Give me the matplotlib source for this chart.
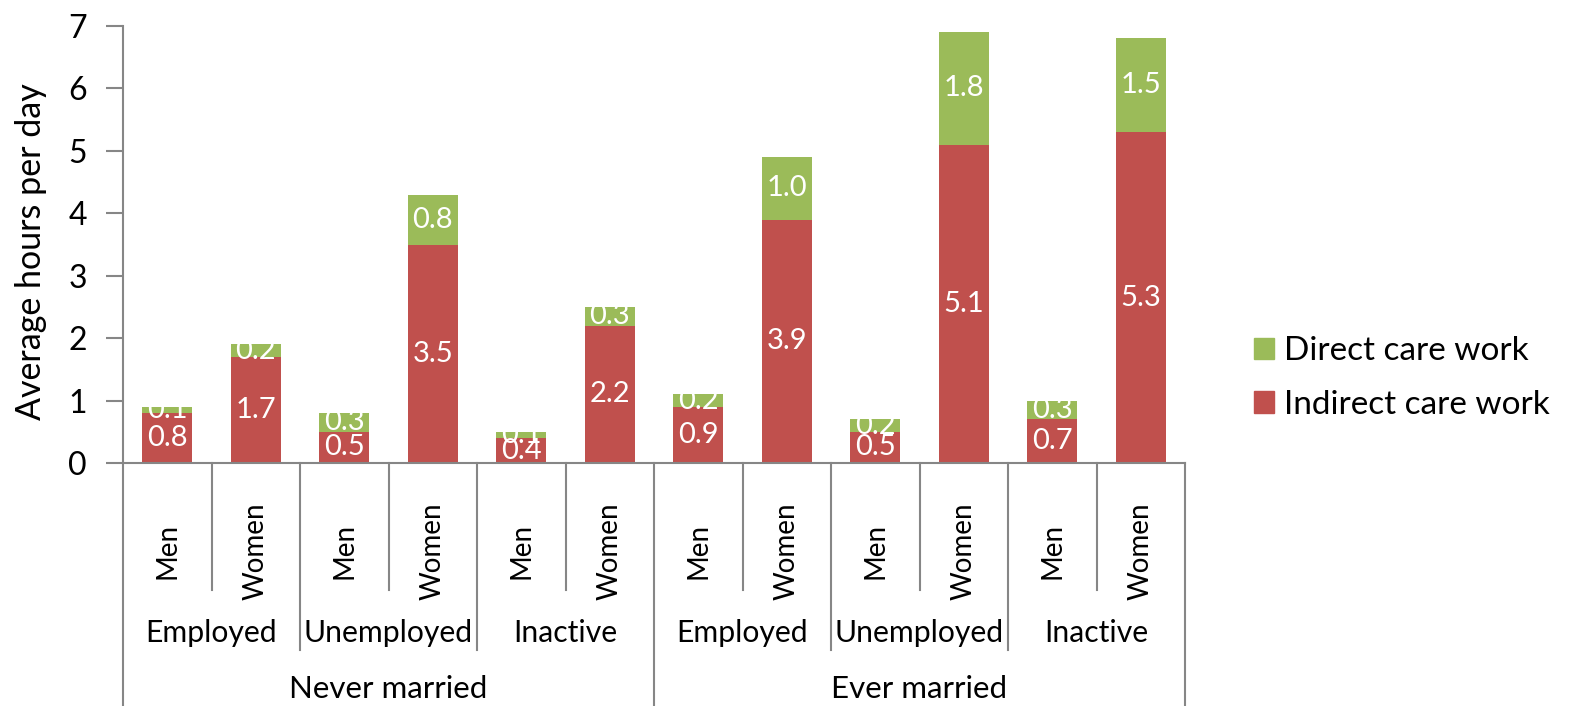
import numpy as np
import matplotlib
matplotlib.use("Agg")
from matplotlib import pyplot as plt
from matplotlib.patches import Patch
import matplotlib.transforms as mtransforms

plt.rcParams['font.family'] = ['Lato', 'DejaVu Sans']

# categories (three levels)
sexes = ['Men', 'Women'] * 6
activity = ['Employed', 'Unemployed', 'Inactive'] * 2
marital = ['Never married', 'Ever married']

# hours per day
indirect = [0.8, 1.7, 0.5, 3.5, 0.4, 2.2, 0.9, 3.9, 0.5, 5.1, 0.7, 5.3]
direct = [0.1, 0.2, 0.3, 0.8, 0.1, 0.3, 0.2, 1.0, 0.2, 1.8, 0.3, 1.5]

red = '#C0504D'
green = '#9BBB59'
axis_gray = '#868686'

fig = plt.figure(figsize=(15.85, 7.06), dpi=100)
ax = fig.add_axes([123/1585, 1 - 463/706, (1185 - 123)/1585, (463 - 26)/706])

x = np.arange(len(sexes))
w = 0.56
b1 = ax.bar(x, indirect, w, color=red, zorder=2)
b2 = ax.bar(x, direct, w, bottom=indirect, color=green, zorder=2)

# value labels in the middle of each segment
for i in range(len(x)):
    ax.text(x[i], indirect[i]/2, '{:.1f}'.format(indirect[i]), ha='center', va='center',
            color='white', fontsize=21, zorder=3)
    ax.text(x[i], indirect[i] + direct[i]/2, '{:.1f}'.format(direct[i]), ha='center',
            va='center', color='white', fontsize=21, zorder=3)

ax.set_xlim(-0.5, len(x) - 0.5)
ax.set_ylim(0, 7)
ax.set_yticks(range(0, 8))
ax.tick_params(axis='y', labelsize=23, length=12, width=1.5, color=axis_gray, pad=14)
ax.set_xticks([])
for s in ['top', 'right']:
    ax.spines[s].set_visible(False)
for s in ['left', 'bottom']:
    ax.spines[s].set_color(axis_gray)
    ax.spines[s].set_linewidth(1.5)

fig.text(31/1585, 1 - 252/706, 'Average hours per day', rotation=90,
         ha='center', va='center', fontsize=24.5)

# multi-level category axis
tr = mtransforms.blended_transform_factory(ax.transData, fig.transFigure)
y_axis = 1 - 463/706
y_sex = 1 - 590/706
y_act = 1 - 650/706
for k in range(len(x) + 1):
    xb = k - 0.5
    if k % 6 == 0:
        y_end = 0
    elif k % 2 == 0:
        y_end = y_act
    else:
        y_end = y_sex
    ax.plot([xb, xb], [y_axis, y_end], transform=tr, color=axis_gray, lw=1.5, clip_on=False)

for i, s in enumerate(sexes):
    ax.text(x[i], 1 - 551/706, s, transform=tr, rotation=90, ha='center', va='center',
            fontsize=20)
for j, a in enumerate(activity):
    ax.text(2*j + 0.5, 1 - 633/706, a, transform=tr, ha='center', va='center', fontsize=21.7)
for j, m in enumerate(marital):
    ax.text(6*j + 2.5, 1 - 689/706, m, transform=tr, ha='center', va='center', fontsize=22.5)

handles = [Patch(color=green, label='Direct care work'),
           Patch(color=red, label='Indirect care work')]
fig.legend(handles=handles, loc='center left', bbox_to_anchor=(1231/1585, 1 - 378/706),
           frameon=False, fontsize=24, handlelength=0.6, handleheight=0.6,
           handletextpad=0.3, labelspacing=0.7, borderpad=0.2)

fig.savefig('out.png', dpi=100)
